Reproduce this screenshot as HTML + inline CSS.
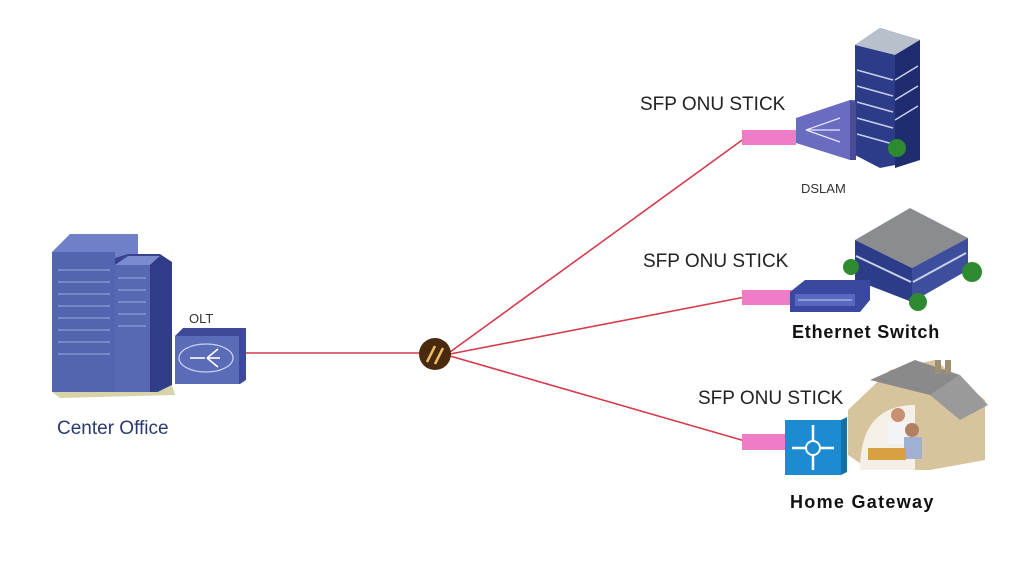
<!DOCTYPE html>
<html><head><meta charset="utf-8"><style>
html,body{margin:0;padding:0;background:#fff;}
svg{display:block;font-family:"Liberation Sans",sans-serif;}
</style></head><body>
<svg width="1029" height="576" viewBox="0 0 1029 576" xmlns="http://www.w3.org/2000/svg">
<polygon points="52,252 70,234 138,234 138,258 115,258" fill="#6f80c8"/>
<rect x="52" y="252" width="63" height="140" fill="#5465b0"/>
<polygon points="115,258 128,254 160,254 172,262 172,385 158,392 115,392" fill="#36438e"/>
<polygon points="115,265 128,256 160,256 150,265" fill="#7a8bd0"/>
<rect x="115" y="265" width="35" height="127" fill="#5869b4"/>
<polygon points="150,265 160,256 172,262 172,385 150,392" fill="#303c88"/>
<polygon points="52,392 158,392 172,385 175,395 60,398" fill="#d8d2a8"/>
<g stroke="#8c9ad8" stroke-width="1.2">
<line x1="58" y1="270" x2="110" y2="270"/><line x1="58" y1="282" x2="110" y2="282"/><line x1="58" y1="294" x2="110" y2="294"/><line x1="58" y1="306" x2="110" y2="306"/><line x1="58" y1="318" x2="110" y2="318"/><line x1="58" y1="330" x2="110" y2="330"/><line x1="58" y1="342" x2="110" y2="342"/><line x1="58" y1="354" x2="110" y2="354"/>
<line x1="118" y1="278" x2="146" y2="278"/><line x1="118" y1="290" x2="146" y2="290"/><line x1="118" y1="302" x2="146" y2="302"/><line x1="118" y1="314" x2="146" y2="314"/><line x1="118" y1="326" x2="146" y2="326"/>
</g>
<text x="189" y="323" font-size="13" fill="#333">OLT</text>
<polygon points="175,336 183,328 246,328 246,380 240,384 175,384" fill="#3c4a98"/>
<rect x="175" y="336" width="64" height="48" fill="#5a6bb8"/>
<ellipse cx="206" cy="358" rx="27" ry="14" fill="none" stroke="#c8d0f0" stroke-width="1.3"/>
<g stroke="#fff" stroke-width="1.6"><line x1="190" y1="358" x2="205" y2="358"/><line x1="207" y1="358" x2="218" y2="349"/><line x1="207" y1="358" x2="220" y2="358"/><line x1="207" y1="358" x2="218" y2="367"/></g>
<g stroke="#d63a4c" stroke-width="1.6" fill="none">
<line x1="246" y1="353" x2="420" y2="353"/>
<line x1="450" y1="352" x2="745" y2="138"/>
<line x1="450" y1="354" x2="745" y2="297"/>
<line x1="450" y1="356" x2="745" y2="441"/>
</g>
<circle cx="435" cy="354" r="16" fill="#4a2a0e"/>
<g stroke="#f0c060" stroke-width="2.5" fill="none"><line x1="427" y1="362" x2="435" y2="346"/><line x1="435" y1="364" x2="443" y2="348"/></g>
<text x="640" y="110" font-size="19" fill="#222">SFP ONU STICK</text>
<text x="643" y="267" font-size="19" fill="#222">SFP ONU STICK</text>
<text x="698" y="404" font-size="19" fill="#222">SFP ONU STICK</text>
<rect x="742" y="130" width="54" height="15" fill="#f07cc8"/>
<rect x="742" y="290" width="54" height="15" fill="#f07cc8"/>
<rect x="742" y="434" width="48" height="16" fill="#f07cc8"/>
<polygon points="855,45 880,28 920,40 920,160 880,168 855,155" fill="#2c3c88"/>
<polygon points="855,45 880,28 920,40 895,55" fill="#b8c0cc"/>
<polygon points="895,55 920,40 920,160 895,168" fill="#1f2d70"/>
<g stroke="#c8d0e8" stroke-width="1.5"><line x1="857" y1="70" x2="893" y2="80"/><line x1="857" y1="86" x2="893" y2="96"/><line x1="857" y1="102" x2="893" y2="112"/><line x1="857" y1="118" x2="893" y2="128"/><line x1="857" y1="134" x2="893" y2="144"/><line x1="895" y1="80" x2="918" y2="66"/><line x1="895" y1="100" x2="918" y2="86"/><line x1="895" y1="120" x2="918" y2="106"/></g>
<circle cx="897" cy="148" r="9" fill="#2e8a30"/>
<polygon points="796,118 850,100 855,100 855,160 850,160 796,143" fill="#6a6cc0"/>
<polygon points="850,100 856,103 856,160 850,160" fill="#4a4c98"/>
<g stroke="#e8e8ff" stroke-width="1.2"><line x1="806" y1="130" x2="840" y2="118"/><line x1="806" y1="130" x2="840" y2="130"/><line x1="806" y1="130" x2="840" y2="142"/></g>
<text x="801" y="193" font-size="13" fill="#333">DSLAM</text>
<polygon points="855,240 910,208 968,238 912,268" fill="#8a8c90"/>
<polygon points="855,240 912,268 912,302 855,280" fill="#2c3c88"/>
<polygon points="912,268 968,238 968,270 912,302" fill="#3d4e9c"/>
<g stroke="#c8d0e8" stroke-width="2"><line x1="856" y1="256" x2="911" y2="282"/><line x1="913" y1="282" x2="966" y2="253"/></g>
<circle cx="851" cy="267" r="8" fill="#2e8a30"/><circle cx="972" cy="272" r="10" fill="#2e8a30"/><circle cx="918" cy="302" r="9" fill="#2e8a30"/>
<polygon points="790,292 805,280 870,280 870,300 860,312 790,312" fill="#3a48a0"/>
<rect x="795" y="294" width="60" height="12" fill="#5868c0"/>
<g stroke="#c8d0f0" stroke-width="1"><line x1="798" y1="300" x2="852" y2="300"/></g>
<text x="792" y="338" font-size="18" font-weight="bold" fill="#111" letter-spacing="0.8">Ethernet Switch</text>
<polygon points="848,410 890,370 935,360 985,400 985,460 930,470 870,470 848,455" fill="#d8c49c"/>
<polygon points="870,380 915,360 960,375 930,395" fill="#8a8a8a"/>
<polygon points="930,395 960,375 988,405 960,420" fill="#9a9a9a"/>
<rect x="935" y="360" width="6" height="14" fill="#a09070"/><rect x="945" y="360" width="6" height="14" fill="#a09070"/>
<path d="M860 470 Q860 405 915 405 L915 470Z" fill="#f4f0e8"/>
<circle cx="898" cy="415" r="7" fill="#c89070"/><rect x="888" y="422" width="18" height="22" fill="#f4f4f8"/>
<circle cx="912" cy="430" r="7" fill="#b08060"/><rect x="904" y="437" width="18" height="22" fill="#a0b0d0"/>
<rect x="868" y="448" width="38" height="12" fill="#d8a040"/>
<rect x="785" y="420" width="56" height="55" fill="#1e8ad0"/>
<polygon points="841,420 847,417 847,472 841,475" fill="#1570a8"/>
<g stroke="#fff" stroke-width="2.5" fill="none"><line x1="792" y1="448" x2="834" y2="448"/><line x1="813" y1="425" x2="813" y2="470"/></g>
<circle cx="813" cy="448" r="7" fill="#1e8ad0" stroke="#fff" stroke-width="2"/>
<text x="790" y="508" font-size="18" font-weight="bold" fill="#111" letter-spacing="1.3">Home Gateway</text>
<text x="57" y="434" font-size="19" fill="#2a3a70">Center Office</text>
</svg>
</body></html>
